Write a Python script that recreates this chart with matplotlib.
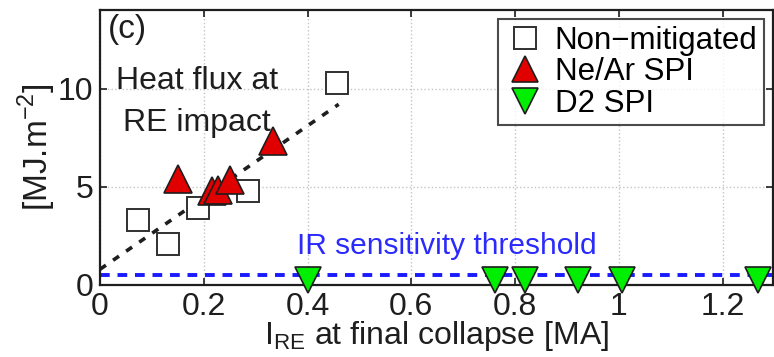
import matplotlib
matplotlib.use("Agg")
from matplotlib import pyplot as plt
import numpy as np

plt.rcParams['font.family'] = ['Liberation Sans', 'DejaVu Sans']
plt.rcParams['mathtext.fontset'] = 'custom'
plt.rcParams['mathtext.rm'] = 'Liberation Sans'

# heat flux at RE impact vs RE current at final collapse
nonmit_x = [0.073, 0.131, 0.189, 0.285, 0.456]
nonmit_y = [3.3, 2.1, 3.9, 4.8, 10.3]

nearspi_x = [0.151, 0.215, 0.228, 0.250, 0.333]
nearspi_y = [5.4, 4.8, 4.85, 5.35, 7.35]

d2spi_x = [0.400, 0.761, 0.819, 0.921, 1.006, 1.268]
d2spi_y = [0.25, 0.25, 0.25, 0.25, 0.25, 0.25]

fit_x = [0.0, 0.46]
fit_y = [0.8, 9.2]

ir_threshold = 0.5

xticks = [0, 0.2, 0.4, 0.6, 0.8, 1.0, 1.2]
xticklabels = ['0', '0.2', '0.4', '0.6', '0.8', '1', '1.2']
yticks = [0, 5, 10]

fs = 23
ink = '#1e1e1e'

fig = plt.figure(figsize=(7.74, 3.57), dpi=100)
ax = fig.add_axes([100 / 774, 1 - 285 / 357, 673 / 774, 275 / 357])

ax.grid(True, color='#c4c4c4', linestyle=':', linewidth=1.0)
ax.set_axisbelow(True)

ax.plot(fit_x, fit_y, linestyle=(0, (2.0, 2.4)), color=ink, lw=2.6, zorder=2)
ax.axhline(ir_threshold, color='#1a1aff', linestyle=(0, (2.5, 2.0)), lw=2.8, zorder=2)

ax.plot(nonmit_x, nonmit_y, 's', ms=16, mfc='white', mec='#303030', mew=1.4,
        label='Non\u2212mitigated', zorder=3)
ax.plot(nearspi_x, nearspi_y, '^', ms=20, mfc='#e00000', mec=ink, mew=1.2,
        label='Ne/Ar SPI', zorder=4)
ax.plot(d2spi_x, d2spi_y, 'v', ms=19, mfc='#00ee00', mec=ink, mew=1.2,
        label='D2 SPI', zorder=4, clip_on=False)

ax.set_xlim(0, 1.297)
ax.set_ylim(0, 14)
ax.set_xticks(xticks)
ax.set_xticklabels(xticklabels)
ax.set_yticks(yticks)
ax.tick_params(direction='in', top=True, right=True, length=5, width=1.2,
               labelsize=fs, colors=ink)
ax.tick_params(axis='x', pad=5)
ax.tick_params(axis='y', pad=5)
for sp in ax.spines.values():
    sp.set_linewidth(1.6)
    sp.set_color(ink)

ax.text(0.015, 13.0, '(c)', fontsize=fs + 1, color=ink, va='center', ha='left')
ax.text(0.187, 10.4, 'Heat flux at', fontsize=fs, color=ink, ha='center', va='center')
ax.text(0.187, 8.25, 'RE impact', fontsize=fs, color=ink, ha='center', va='center')
ax.text(0.38, 2.0, 'IR sensitivity threshold', fontsize=fs - 1.5, color='#2a2aff',
        ha='left', va='center')

ax.set_xlabel('I$_{\\mathrm{RE}}$ at final collapse [MA]', fontsize=fs,
              color=ink, labelpad=-2)
ax.set_ylabel('[MJ.m$^{\\mathrm{-2}}$]', fontsize=fs + 1, color=ink, labelpad=0)

leg = ax.legend(loc='upper right', fontsize=fs - 0.5, frameon=True, fancybox=False,
                edgecolor=ink, borderpad=0.2, handletextpad=0.3,
                labelspacing=0.05, handlelength=1.3, borderaxespad=0.3,
                markerscale=0.95)
leg.get_frame().set_linewidth(1.5)

fig.savefig('out.png', dpi=100)
